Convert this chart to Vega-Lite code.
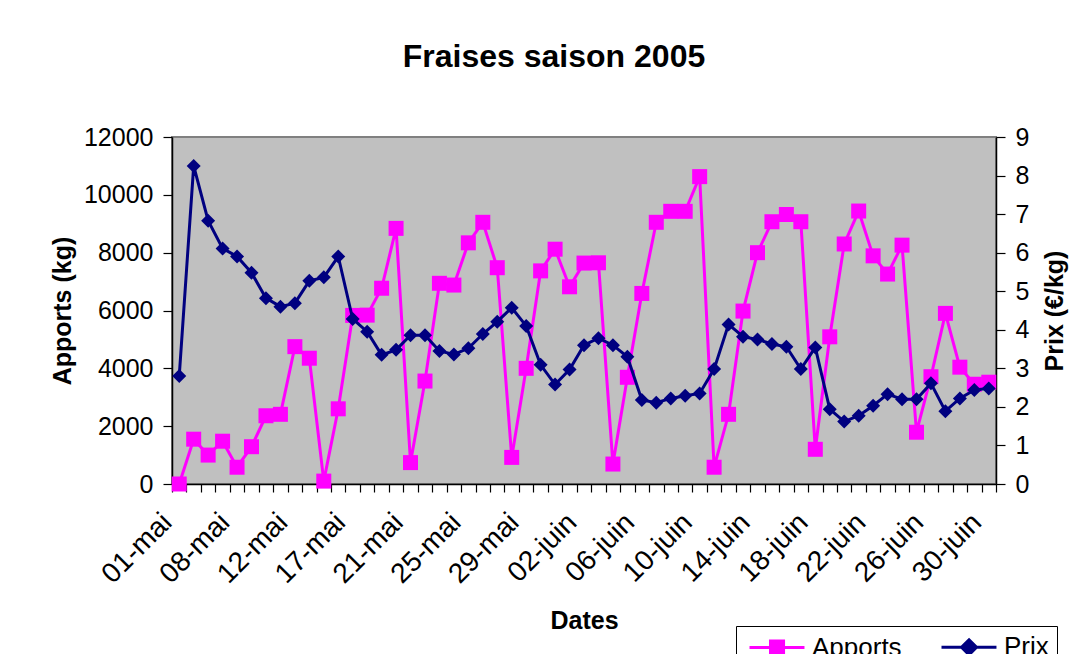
{
  "$schema": "https://vega.github.io/schema/vega-lite/v6.json",
  "width": 824,
  "height": 347,
  "autosize": {"type": "none"},
  "padding": {"left": 172, "top": 137, "right": 94, "bottom": 170},
  "background": "white",
  "title": {"text": "Fraises saison 2005", "font": "Liberation Sans", "fontSize": 32, "fontWeight": "bold", "color": "black", "anchor": "middle", "frame": "group", "offset": 51, "dx": -30},
  "config": {
    "view": {"fill": "#C0C0C0", "stroke": "#808080", "strokeWidth": 2},
    "axis": {"labelFont": "Liberation Sans", "titleFont": "Liberation Sans", "labelFontSize": 25, "titleFontSize": 25, "labelColor": "black", "titleColor": "black", "domainColor": "black", "tickColor": "black", "grid": false, "titleFontWeight": "bold", "domainWidth": 1.5, "tickWidth": 1.2},
    "legend": {"labelFont": "Liberation Sans", "labelFontSize": 26, "labelColor": "black"}
  },
  "data": {"values": [
    {"date": "01-mai", "Apports": 0, "Prix": 2.80},
    {"date": "03-mai", "Apports": 1550, "Prix": 8.25},
    {"date": "04-mai", "Apports": 1000, "Prix": 6.83},
    {"date": "06-mai", "Apports": 1480, "Prix": 6.11},
    {"date": "08-mai", "Apports": 580, "Prix": 5.90},
    {"date": "09-mai", "Apports": 1290, "Prix": 5.48},
    {"date": "10-mai", "Apports": 2360, "Prix": 4.82},
    {"date": "11-mai", "Apports": 2410, "Prix": 4.60},
    {"date": "12-mai", "Apports": 4750, "Prix": 4.69},
    {"date": "13-mai", "Apports": 4350, "Prix": 5.27},
    {"date": "14-mai", "Apports": 100, "Prix": 5.36},
    {"date": "16-mai", "Apports": 2600, "Prix": 5.90},
    {"date": "17-mai", "Apports": 5830, "Prix": 4.28},
    {"date": "18-mai", "Apports": 5840, "Prix": 3.95},
    {"date": "19-mai", "Apports": 6770, "Prix": 3.35},
    {"date": "20-mai", "Apports": 8840, "Prix": 3.48},
    {"date": "21-mai", "Apports": 740, "Prix": 3.86},
    {"date": "22-mai", "Apports": 3560, "Prix": 3.86},
    {"date": "23-mai", "Apports": 6940, "Prix": 3.45},
    {"date": "24-mai", "Apports": 6880, "Prix": 3.36},
    {"date": "25-mai", "Apports": 8340, "Prix": 3.52},
    {"date": "26-mai", "Apports": 9050, "Prix": 3.89},
    {"date": "27-mai", "Apports": 7480, "Prix": 4.21},
    {"date": "28-mai", "Apports": 920, "Prix": 4.57},
    {"date": "29-mai", "Apports": 4000, "Prix": 4.10},
    {"date": "30-mai", "Apports": 7370, "Prix": 3.09},
    {"date": "31-mai", "Apports": 8120, "Prix": 2.58},
    {"date": "01-juin", "Apports": 6820, "Prix": 2.97},
    {"date": "02-juin", "Apports": 7640, "Prix": 3.60},
    {"date": "03-juin", "Apports": 7650, "Prix": 3.78},
    {"date": "04-juin", "Apports": 690, "Prix": 3.60},
    {"date": "05-juin", "Apports": 3690, "Prix": 3.30},
    {"date": "06-juin", "Apports": 6590, "Prix": 2.18},
    {"date": "07-juin", "Apports": 9050, "Prix": 2.11},
    {"date": "08-juin", "Apports": 9430, "Prix": 2.22},
    {"date": "09-juin", "Apports": 9430, "Prix": 2.29},
    {"date": "10-juin", "Apports": 10630, "Prix": 2.35},
    {"date": "11-juin", "Apports": 580, "Prix": 2.98},
    {"date": "12-juin", "Apports": 2410, "Prix": 4.14},
    {"date": "13-juin", "Apports": 5980, "Prix": 3.82},
    {"date": "14-juin", "Apports": 8000, "Prix": 3.75},
    {"date": "15-juin", "Apports": 9070, "Prix": 3.63},
    {"date": "16-juin", "Apports": 9320, "Prix": 3.56},
    {"date": "17-juin", "Apports": 9070, "Prix": 2.98},
    {"date": "18-juin", "Apports": 1200, "Prix": 3.54},
    {"date": "19-juin", "Apports": 5090, "Prix": 1.94},
    {"date": "20-juin", "Apports": 8300, "Prix": 1.62},
    {"date": "21-juin", "Apports": 9440, "Prix": 1.77},
    {"date": "22-juin", "Apports": 7890, "Prix": 2.03},
    {"date": "23-juin", "Apports": 7260, "Prix": 2.33},
    {"date": "24-juin", "Apports": 8260, "Prix": 2.20},
    {"date": "25-juin", "Apports": 1790, "Prix": 2.20},
    {"date": "26-juin", "Apports": 3710, "Prix": 2.61},
    {"date": "27-juin", "Apports": 5900, "Prix": 1.89},
    {"date": "28-juin", "Apports": 4040, "Prix": 2.22},
    {"date": "29-juin", "Apports": 3450, "Prix": 2.44},
    {"date": "30-juin", "Apports": 3520, "Prix": 2.48}
  ]},
  "layer": [
    {
      "encoding": {
        "x": {"field": "date", "type": "ordinal", "sort": null,
              "scale": {"type": "band", "paddingInner": 0, "paddingOuter": 0},
              "axis": {"title": "Dates", "labelAngle": -45, "labelAlign": "right", "labelBaseline": "middle", "labelFontSize": 28, "ticks": true, "tickBand": "extent", "tickSize": 8, "labelPadding": 26, "labelOffset": -12, "titlePadding": 20, "labelOverlap": false,
                       "labelExpr": "indexof(['01-mai','08-mai','12-mai','17-mai','21-mai','25-mai','29-mai','02-juin','06-juin','10-juin','14-juin','18-juin','22-juin','26-juin','30-juin'], datum.value) >= 0 ? datum.value : ''"}},
        "y": {"field": "Apports", "type": "quantitative", "scale": {"domain": [0, 12000]},
              "axis": {"title": "Apports (kg)", "values": [0, 2000, 4000, 6000, 8000, 10000, 12000], "format": "d", "tickSize": 9, "labelPadding": 10, "titlePadding": 8}},
        "color": {"datum": "Apports", "scale": {"domain": ["Apports", "Prix"], "range": ["#FF00FF", "#000080"]},
                  "legend": {"orient": "none", "legendX": 564, "legendY": 489, "direction": "horizontal", "title": null, "strokeColor": "black", "fillColor": "white", "padding": 8, "symbolSize": 225, "labelOffset": 42, "columnPadding": 33, "labelLimit": 0,
                             "encode": {"symbols": {"update": {
                               "shape": {"signal": "datum.value === 'Apports' ? 'M-1,0L6.33,0M1.8,-0.87L3.54,-0.87L3.54,0.87L1.8,0.87Z' : 'M-1,0L6.33,0M2.67,-1L3.67,0L2.67,1L1.67,0Z'"},
                               "fill": {"signal": "datum.value === 'Apports' ? '#FF00FF' : '#000080'"},
                               "stroke": {"signal": "datum.value === 'Apports' ? '#FF00FF' : '#000080'"},
                               "strokeWidth": {"value": 3},
                               "opacity": {"value": 1}
                             }}}}}
      },
      "layer": [
        {"mark": {"type": "line", "strokeWidth": 3}},
        {"mark": {"type": "point", "shape": "square", "filled": true, "size": 225, "opacity": 1}}
      ]
    },
    {
      "encoding": {
        "x": {"field": "date", "type": "ordinal", "sort": null},
        "y": {"field": "Prix", "type": "quantitative", "scale": {"domain": [0, 9]},
              "axis": {"orient": "right", "title": "Prix (€/kg)", "values": [0, 1, 2, 3, 4, 5, 6, 7, 8, 9], "tickSize": 9, "labelPadding": 10, "titlePadding": 14, "titleAngle": 270, "titleBaseline": "top"}},
        "color": {"datum": "Prix"}
      },
      "layer": [
        {"mark": {"type": "line", "strokeWidth": 3}},
        {"mark": {"type": "point", "shape": "diamond", "filled": true, "size": 196, "opacity": 1}}
      ]
    }
  ],
  "resolve": {"scale": {"y": "independent"}}
}
